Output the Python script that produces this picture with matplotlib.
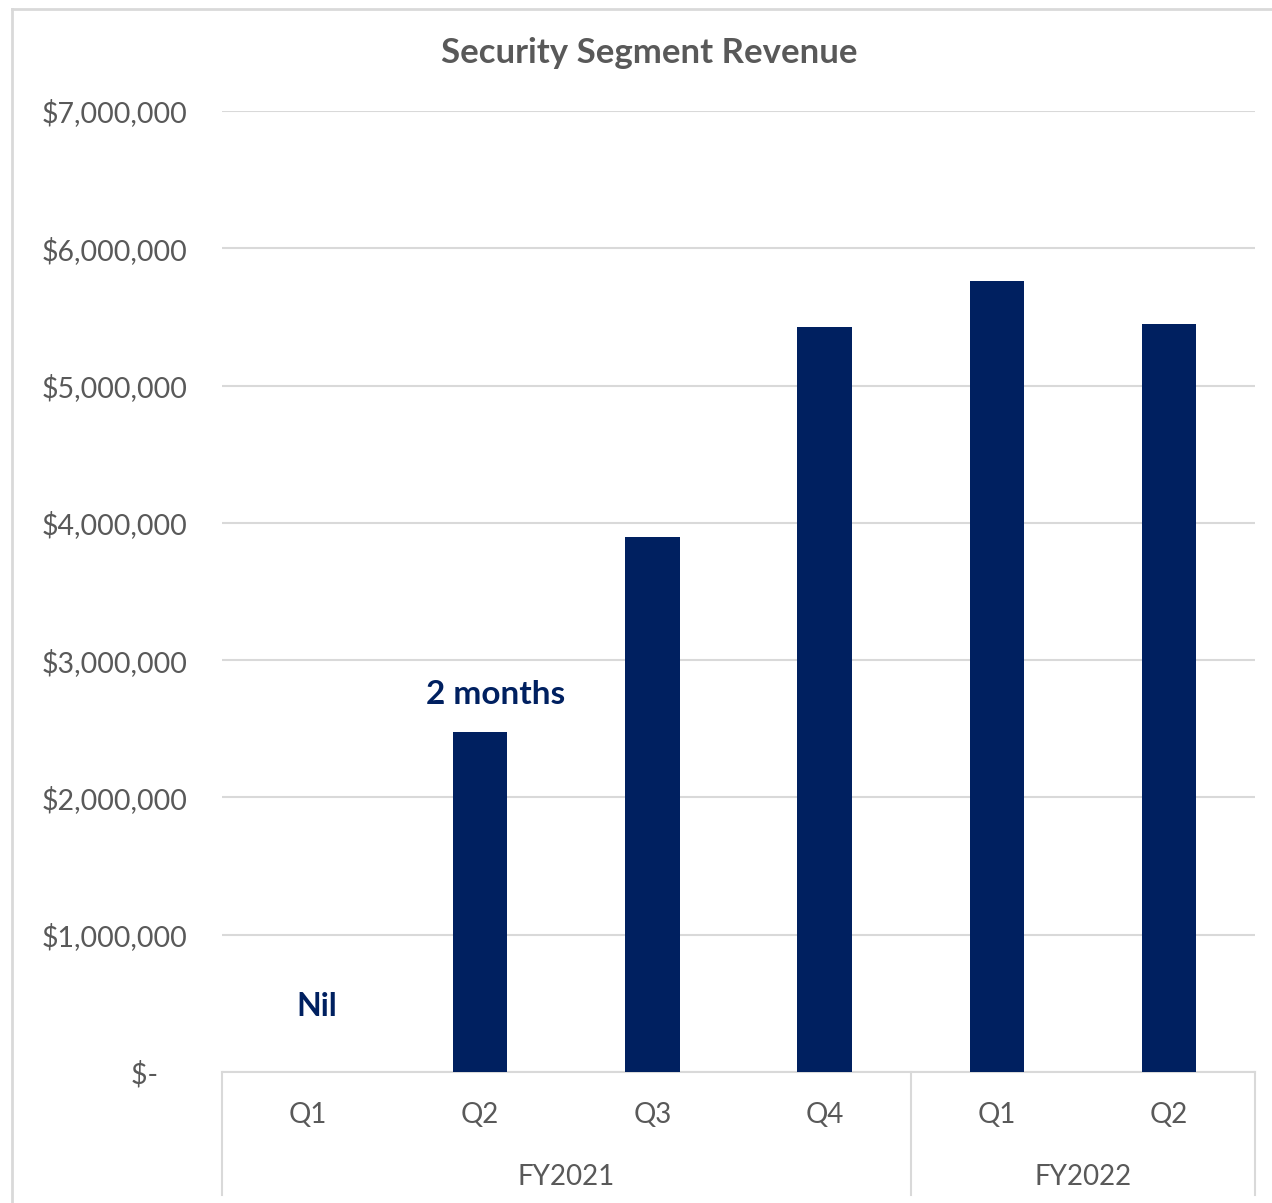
import matplotlib.pyplot as plt
from matplotlib.ticker import FuncFormatter
from matplotlib.lines import Line2D
import numpy as np

quarters = ['Q1', 'Q2', 'Q3', 'Q4', 'Q1', 'Q2']
years = ['FY2021', 'FY2022']
year_sizes = [4, 2]
revenue = [0, 2480000, 3900000, 5430000, 5760000, 5450000]

navy = '#002060'
grey_text = '#595959'
grid_c = '#d9d9d9'

plt.rcParams['font.family'] = ['Lato', 'DejaVu Sans']

fig = plt.figure(figsize=(12.72, 12.03), dpi=100)
ax = fig.add_axes([222/1272, 1 - 1072/1203, (1255-222)/1272, (1072-111)/1203])

x = np.arange(len(quarters))
ax.bar(x, revenue, width=0.315, color=navy, zorder=3)

ax.set_xlim(-0.5, len(quarters) - 0.5)
ax.set_ylim(0, 7000000)
ax.set_yticks(np.arange(0, 7000001, 1000000))

def money(v, pos):
    # accounting style: zero shown as a dash, indented
    if v == 0:
        return '$-    '
    return '${:,.0f}'.format(v)

ax.yaxis.set_major_formatter(FuncFormatter(money))
ax.tick_params(axis='y', length=0, pad=25, labelsize=20.5, labelcolor=grey_text)
ax.tick_params(axis='x', length=0, labelbottom=False)
ax.grid(axis='y', color=grid_c, lw=1.5, zorder=0)
for s in ['left', 'right', 'top']:
    ax.spines[s].set_visible(False)
ax.spines['bottom'].set_color(grid_c)
ax.spines['bottom'].set_linewidth(1.5)

# two-level category axis
for i, q in enumerate(quarters):
    ax.text(i, -0.045, q, transform=ax.get_xaxis_transform(), ha='center', va='center',
            fontsize=20, color=grey_text)
start = 0
bounds = [-0.5]
for yr, n in zip(years, year_sizes):
    mid = start + (n - 1) / 2
    ax.text(mid, -0.109, yr, transform=ax.get_xaxis_transform(), ha='center', va='center',
            fontsize=20, color=grey_text)
    start += n
    bounds.append(start - 0.5)
for b in bounds:
    ax.add_line(Line2D([b, b], [0, -0.128], transform=ax.get_xaxis_transform(),
                       color=grid_c, lw=1.5, clip_on=False))

# annotations
ax.text(0.05, 475000, 'Nil', ha='center', va='center', fontsize=23,
        fontweight='bold', color=navy)
ax.text(1.09, revenue[1] + 270000, '2 months', ha='center', va='center', fontsize=24,
        fontweight='bold', color=navy)

fig.text(649/1272, 1 - 53/1203, 'Security Segment Revenue', ha='center', va='center',
         fontsize=25, fontweight='bold', color=grey_text)

# chart frame
fig.add_artist(Line2D([12/1272, 12/1272], [0, 1 - 9/1203], transform=fig.transFigure,
                      color=grid_c, lw=2))
fig.add_artist(Line2D([12/1272, 1], [1 - 9/1203, 1 - 9/1203], transform=fig.transFigure,
                      color=grid_c, lw=2))

fig.savefig('out.png', dpi=100, facecolor='white')
